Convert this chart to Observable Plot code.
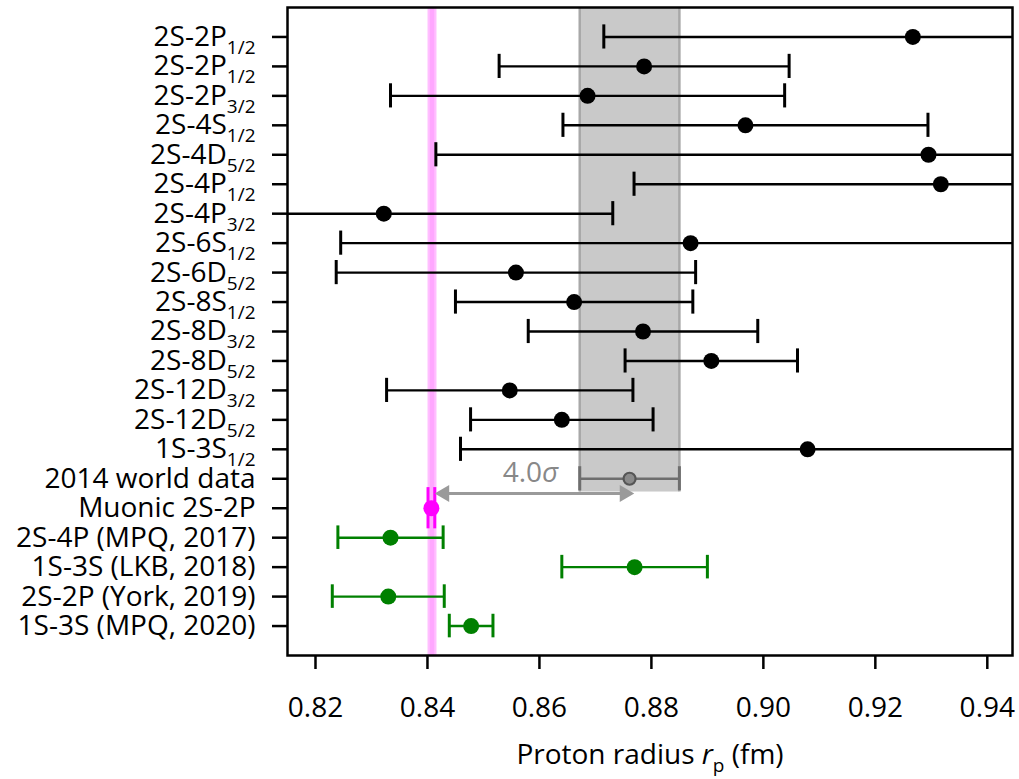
<!DOCTYPE html>
<html><head><meta charset="utf-8">
<script src="https://cdn.jsdelivr.net/npm/d3@7"></script>
<script src="https://cdn.jsdelivr.net/npm/@observablehq/plot@0.6"></script>
<style>body{margin:0;background:#fff;} svg{display:block;}</style>
</head><body><div id="chart"></div>
<script>
// ---- data ----
const names = ["2S-2P","2S-2P","2S-2P","2S-4S","2S-4D","2S-4P","2S-4P","2S-6S","2S-6D","2S-8S","2S-8D","2S-8D","2S-12D","2S-12D","1S-3S","2014 world data","Muonic 2S-2P","2S-4P (MPQ, 2017)","1S-3S (LKB, 2018)","2S-2P (York, 2019)","1S-3S (MPQ, 2020)"];
const subs = ["1/2","1/2","3/2","1/2","5/2","1/2","3/2","1/2","5/2","1/2","3/2","5/2","3/2","5/2","1/2","","","","","",""];
const values = [0.9267,0.8787,0.8686,0.8968,0.9295,0.9317,0.8322,0.8870,0.8558,0.8662,0.8785,0.8907,0.8547,0.8640,0.9079,0.8761,0.8407,0.8334,0.8770,0.8330,0.8478];
const errors = [0.0552,0.0259,0.0352,0.0326,0.0880,0.0548,0.0409,0.0625,0.0321,0.0212,0.0205,0.0154,0.0220,0.0163,0.0620,0.0089,0.0006,0.0094,0.0130,0.0100,0.0039];
const groups = ["H","H","H","H","H","H","H","H","H","H","H","H","H","H","H","world","muonic","new","new","new","new"];
const muonicBand = [0.8401, 0.8417];
const xTicks = [0.82,0.84,0.86,0.88,0.90,0.92,0.94];
const sigmaLabel = "4.0";
const xTitle = ["Proton radius ", "r", "p", " (fm)"];

// ---- build ----
const rows = names.map((name,i)=>({i, name, sub: subs[i], v: values[i], e: errors[i], g: groups[i]}));
const lineColor = {H:"#000000", world:"#6e6e6e", muonic:"#ff00ff", new:"#008000"};
const capHalf = {H:0.41, world:0.41, muonic:0.7, new:0.4};
const world = rows.find(d=>d.g==="world");
const muonic = rows.find(d=>d.g==="muonic");
const xDomain = [0.815, 0.9445];
const yDomain = [-1, 21];
const fontFamily = "'Open Sans', sans-serif";
const caps = rows.flatMap(d=>[{...d, x: d.v-d.e}, {...d, x: d.v+d.e}]);
const arrowY = world.i + 0.5;
const headStyle = {y:arrowY, symbol:"triangle2", r:8, fill:"#9a9a9a", stroke:"none"};

const plot = Plot.plot({
  width:1019, height:779,
  marginLeft:287, marginRight:7, marginTop:7, marginBottom:124,
  style:{fontFamily, fontSize:"28px", background:"#fff", color:"#000"},
  x:{domain:xDomain},
  y:{domain:yDomain, reverse:true},
  color:{type:"identity"},
  marks:[
    // muonic band
    Plot.rect([muonicBand], {x1:d=>d[0], x2:d=>d[1], y1:yDomain[0], y2:yDomain[1], fill:"#ff00ff", fillOpacity:0.25}),
    Plot.rect([muonicBand], {x1:d=>d[0]+0.0004, x2:d=>d[1]-0.0004, y1:yDomain[0], y2:yDomain[1], fill:"#ff00ff", fillOpacity:0.12}),
    // world band
    Plot.rect([world], {x1:d=>d.v-d.e, x2:d=>d.v+d.e, y1:yDomain[0], y2:d=>d.i+0.45, fill:"#c9c9c9"}),
    Plot.ruleX([world.v-world.e, world.v+world.e], {y1:yDomain[0], y2:world.i+0.45, stroke:"#a8a8a8", strokeWidth:2.5}),
    // error bars
    Plot.ruleY(rows, {y:"i", x1:d=>d.v-d.e, x2:d=>d.v+d.e, stroke:d=>lineColor[d.g], strokeWidth:2.4, clip:true}),
    Plot.ruleX(caps, {x:"x", y1:d=>d.i-capHalf[d.g], y2:d=>d.i+capHalf[d.g], stroke:d=>lineColor[d.g], strokeWidth:3, clip:true}),
    Plot.dot(rows.filter(d=>d.g!=="world"), {x:"v", y:"i", r:8, fill:d=>lineColor[d.g], stroke:"none"}),
    Plot.dot([world], {x:"v", y:"i", r:6, fill:"#8a8a8a", stroke:"#555", strokeWidth:2.2}),
    // double arrow with filled heads
    Plot.ruleY([arrowY], {x1:muonic.v, x2:world.v, stroke:"#9a9a9a", strokeWidth:3, insetLeft:10, insetRight:6}),
    Plot.dot([muonic], {...headStyle, x:"v", rotate:-90, dx:13}),
    Plot.dot([world], {...headStyle, x:"v", rotate:90, dx:-5}),
    Plot.text([sigmaLabel], {x:(muonic.v+world.v)/2, y:arrowY, text:d=>d, dy:-20, fill:"#888", fontSize:28}),
    Plot.frame({stroke:"#000", strokeWidth:2.5}),
    Plot.axisY({ticks:rows.map(d=>d.i), tickFormat:i=>String(i), tickSize:15, tickPadding:17, strokeWidth:2.5, label:null}),
    Plot.axisX({ticks:xTicks, tickFormat:d3.format(".2f"), tickSize:14, tickPadding:28, strokeWidth:2.5, label:null}),
    Plot.text([xTitle.join("")], {frameAnchor:"bottom", dy:108, fontSize:28})
  ]
});

// rich text: subscripts / italics
const svg = d3.select(plot);
svg.selectAll('g[aria-label="y-axis tick label"] text').each(function(){
  const r = rows[+this.textContent];
  const t = d3.select(this); t.text(null);
  t.append("tspan").text(r.name);
  if (r.sub) t.append("tspan").attr("font-size", 19).attr("dy", 8).text(r.sub);
});
svg.selectAll("text").each(function(){
  const t = d3.select(this);
  if (this.textContent === sigmaLabel && !this.querySelector("tspan")) {
    t.text(null);
    t.append("tspan").text(sigmaLabel);
    t.append("tspan").attr("font-style","italic").text("σ");
  } else if (this.textContent === xTitle.join("")) {
    t.text(null);
    t.append("tspan").text(xTitle[0]);
    t.append("tspan").attr("font-style","italic").text(xTitle[1]);
    t.append("tspan").attr("font-size",19).attr("dy",8).text(xTitle[2]);
    t.append("tspan").attr("dy",-8).text(xTitle[3]);
  }
});
document.getElementById("chart").appendChild(plot);
</script>
</body></html>
